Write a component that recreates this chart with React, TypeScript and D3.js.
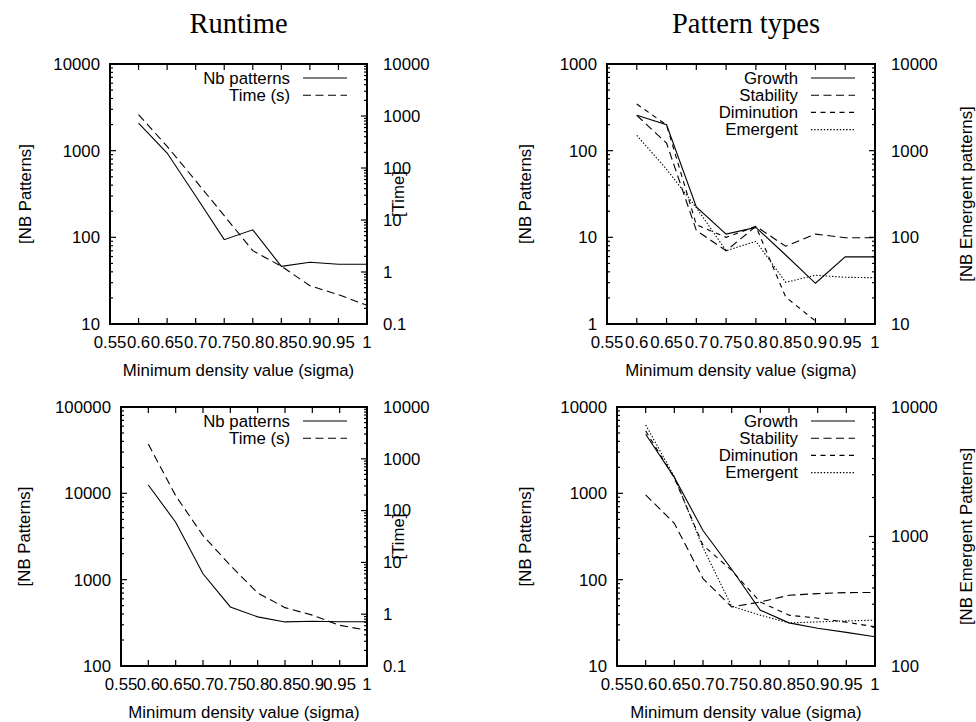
import React from 'react';
import * as d3 from 'd3';

// ---------- data ----------
const xValues = [0.6, 0.65, 0.7, 0.75, 0.8, 0.85, 0.9, 0.95, 1.0];
const xTickValues = [0.55, 0.6, 0.65, 0.7, 0.75, 0.8, 0.85, 0.9, 0.95, 1.0];
const xTickLabels = ['0.55', '0.6', '0.65', '0.7', '0.75', '0.8', '0.85', '0.9', '0.95', '1'];

const columnTitles = ['Runtime', 'Pattern types'];
const xAxisTitle = 'Minimum density value (sigma)';

// Runtime (top)
const runtimeTopPatterns = [2085, 940, 300, 94, 122, 46.3, 51.5, 49, 49];
const runtimeTopTime = [1060, 261, 57, 12.1, 2.57, 1.29, 0.545, 0.366, 0.229];
const runtimeTopLeftDomain = [10, 10000];
const runtimeTopRightDomain = [0.1, 10000];

// Pattern types (top)
const typesTopGrowth = [256, 199, 22.4, 10.9, 13, 6.25, 2.95, 5.95, 5.95];
const typesTopStability = [256, 122, 12, 7, 13.4, 7.9, 10.9, 9.9, 9.9];
const typesTopDiminution = [345, 198, 14, 10, 13.4, 2.05, 1.08, null, null];
const typesTopEmergent = [1500, 610, 220, 70, 90, 30.3, 36.5, 34.6, 34.2];
const typesTopLeftDomain = [1, 1000];
const typesTopRightDomain = [10, 10000];

// Runtime (bottom)
const runtimeBottomPatterns = [12500, 4620, 1170, 483, 371, 324, 330, 326, 326];
const runtimeBottomTime = [1920, 194, 33, 8.75, 2.57, 1.34, 0.96, 0.61, 0.49];
const runtimeBottomLeftDomain = [100, 100000];
const runtimeBottomRightDomain = [0.1, 10000];

// Pattern types (bottom)
const typesBottomGrowth = [4840, 1530, 371, 132, 44.3, 31.6, 27.4, 24.5, 21.8];
const typesBottomStability = [958, 450, 103, 48.3, 55.2, 65.9, 69, 70.8, 71];
const typesBottomDiminution = [5285, 1510, 250, 128, 55, 38.8, 35.8, 32.2, 28.4];
const typesBottomEmergent = [7270, 2900, 820, 289, 247, 215, 219, 223, 226];
const typesBottomLeftDomain = [10, 10000];
const typesBottomRightDomain = [100, 10000];

const runtimeLegend = ['Nb patterns', 'Time (s)'];
const typesLegend = ['Growth', 'Stability', 'Diminution', 'Emergent'];

// ---------- styles ----------
const SANS = '"Liberation Sans", Arial, Helvetica, sans-serif';
const SERIF = '"Liberation Serif", "Times New Roman", serif';
const FS = 16.8;
const DASH = {
  solid: undefined as string | undefined,
  long: '8,4.5',
  short: '5,4.5',
  dot: '1.4,1.8',
};

type Series = { name: string; values: (number | null)[]; axis: 'left' | 'right'; dash?: string };

type PanelProps = {
  id: string;
  frame: { left: number; right: number; top: number; bottom: number };
  leftDomain: number[];
  rightDomain: number[];
  series: Series[];
  leftLabel: string;
  rightLabel: string;
  leftLabelX: number;
  rightLabelX: number;
};

function logTicks(domain: number[]) {
  const majors: number[] = [];
  const minors: number[] = [];
  const lo = Math.round(Math.log10(domain[0]));
  const hi = Math.round(Math.log10(domain[1]));
  for (let e = lo; e <= hi; e++) {
    majors.push(Math.pow(10, e));
    if (e < hi) for (let k = 2; k <= 9; k++) minors.push(k * Math.pow(10, e));
  }
  return { majors, minors };
}

function fmt(v: number) {
  if (v >= 1) return String(Math.round(v));
  return String(+v.toPrecision(3));
}

function Panel(p: PanelProps) {
  const { frame } = p;
  const x = d3.scaleLinear().domain([0.55, 1.0]).range([frame.left, frame.right]);
  const yL = d3.scaleLog().domain(p.leftDomain).range([frame.bottom, frame.top]);
  const yR = d3.scaleLog().domain(p.rightDomain).range([frame.bottom, frame.top]);
  const lt = logTicks(p.leftDomain);
  const rt = logTicks(p.rightDomain);
  const MAJ = 6;
  const MIN = 3;
  const cy = (frame.top + frame.bottom) / 2;
  const cx = (frame.left + frame.right) / 2;

  return (
    <g>
      <defs>
        <clipPath id={`clip-${p.id}`}>
          <rect x={frame.left} y={frame.top} width={frame.right - frame.left} height={frame.bottom - frame.top} />
        </clipPath>
      </defs>
      <g clipPath={`url(#clip-${p.id})`}>
        {p.series.map((s, i) => {
          const ys = s.axis === 'left' ? yL : yR;
          const line = d3
            .line<number | null>()
            .defined((d) => d != null && d > 0)
            .x((_, j) => x(xValues[j]))
            .y((d) => ys(d as number));
          return (
            <path key={i} d={line(s.values) || ''} fill="none" stroke="#000" strokeWidth={1.1} strokeDasharray={s.dash} />
          );
        })}
      </g>
      {/* x ticks bottom and top */}
      {xTickValues.map((v, i) => (
        <g key={'xt' + i}>
          <line x1={x(v)} x2={x(v)} y1={frame.bottom} y2={frame.bottom - MAJ} stroke="#000" strokeWidth={1.2} />
          <line x1={x(v)} x2={x(v)} y1={frame.top} y2={frame.top + MAJ} stroke="#000" strokeWidth={1.2} />
          <text x={x(v)} y={frame.bottom + 18} dy="0.35em" textAnchor="middle" fontFamily={SANS} fontSize={FS}>
            {xTickLabels[i]}
          </text>
        </g>
      ))}
      {/* left y ticks */}
      {lt.minors.map((v, i) => (
        <line key={'lm' + i} x1={frame.left} x2={frame.left + MIN} y1={yL(v)} y2={yL(v)} stroke="#000" strokeWidth={1.2} />
      ))}
      {lt.majors.map((v, i) => (
        <g key={'lM' + i}>
          <line x1={frame.left} x2={frame.left + MAJ} y1={yL(v)} y2={yL(v)} stroke="#000" strokeWidth={1.2} />
          <text x={frame.left - 10} y={yL(v)} dy="0.35em" textAnchor="end" fontFamily={SANS} fontSize={FS}>
            {fmt(v)}
          </text>
        </g>
      ))}
      {/* right y ticks */}
      {rt.minors.map((v, i) => (
        <line key={'rm' + i} x1={frame.right} x2={frame.right - MIN} y1={yR(v)} y2={yR(v)} stroke="#000" strokeWidth={1.2} />
      ))}
      {rt.majors.map((v, i) => (
        <g key={'rM' + i}>
          <line x1={frame.right} x2={frame.right - MAJ} y1={yR(v)} y2={yR(v)} stroke="#000" strokeWidth={1.2} />
          <text x={frame.right + 16} y={yR(v)} dy="0.35em" textAnchor="start" fontFamily={SANS} fontSize={FS}>
            {fmt(v)}
          </text>
        </g>
      ))}
      {/* frame */}
      <rect
        x={frame.left}
        y={frame.top}
        width={frame.right - frame.left}
        height={frame.bottom - frame.top}
        fill="none"
        stroke="#000"
        strokeWidth={2}
      />
      {/* axis titles */}
      <text x={cx} y={frame.bottom + 46} dy="0.35em" textAnchor="middle" fontFamily={SANS} fontSize={FS}>
        {xAxisTitle}
      </text>
      <text
        transform={`translate(${p.leftLabelX},${cy}) rotate(-90)`}
        dy="0.35em"
        textAnchor="middle"
        fontFamily={SANS}
        fontSize={FS}
      >
        {p.leftLabel}
      </text>
      <text
        transform={`translate(${p.rightLabelX},${cy}) rotate(-90)`}
        dy="0.35em"
        textAnchor="middle"
        fontFamily={SANS}
        fontSize={FS}
      >
        {p.rightLabel}
      </text>
      {/* legend */}
      {p.series.map((s, i) => {
        const ry = frame.top + 14 + i * 17.2;
        return (
          <g key={'lg' + i}>
            <text x={frame.right - 77} y={ry} dy="0.35em" textAnchor="end" fontFamily={SANS} fontSize={FS}>
              {s.name}
            </text>
            <line
              x1={frame.right - 64}
              x2={frame.right - 20}
              y1={ry}
              y2={ry}
              stroke="#000"
              strokeWidth={1.1}
              strokeDasharray={s.dash}
            />
          </g>
        );
      })}
    </g>
  );
}

export default function App() {
  const panels: PanelProps[] = [
    {
      id: 'p1',
      frame: { left: 110, right: 367, top: 64, bottom: 324 },
      leftDomain: runtimeTopLeftDomain,
      rightDomain: runtimeTopRightDomain,
      series: [
        { name: runtimeLegend[0], values: runtimeTopPatterns, axis: 'left', dash: DASH.solid },
        { name: runtimeLegend[1], values: runtimeTopTime, axis: 'right', dash: DASH.long },
      ],
      leftLabel: '[NB Patterns]',
      rightLabel: '[Time]',
      leftLabelX: 25,
      rightLabelX: 398,
    },
    {
      id: 'p2',
      frame: { left: 607, right: 875, top: 64, bottom: 324 },
      leftDomain: typesTopLeftDomain,
      rightDomain: typesTopRightDomain,
      series: [
        { name: typesLegend[0], values: typesTopGrowth, axis: 'left', dash: DASH.solid },
        { name: typesLegend[1], values: typesTopStability, axis: 'left', dash: DASH.long },
        { name: typesLegend[2], values: typesTopDiminution, axis: 'left', dash: DASH.short },
        { name: typesLegend[3], values: typesTopEmergent, axis: 'right', dash: DASH.dot },
      ],
      leftLabel: '[NB Patterns]',
      rightLabel: '[NB Emergent patterns]',
      leftLabelX: 525,
      rightLabelX: 966,
    },
    {
      id: 'p3',
      frame: { left: 121, right: 367, top: 407, bottom: 666 },
      leftDomain: runtimeBottomLeftDomain,
      rightDomain: runtimeBottomRightDomain,
      series: [
        { name: runtimeLegend[0], values: runtimeBottomPatterns, axis: 'left', dash: DASH.solid },
        { name: runtimeLegend[1], values: runtimeBottomTime, axis: 'right', dash: DASH.long },
      ],
      leftLabel: '[NB Patterns]',
      rightLabel: '[Time]',
      leftLabelX: 24,
      rightLabelX: 398,
    },
    {
      id: 'p4',
      frame: { left: 617, right: 875, top: 407, bottom: 666 },
      leftDomain: typesBottomLeftDomain,
      rightDomain: typesBottomRightDomain,
      series: [
        { name: typesLegend[0], values: typesBottomGrowth, axis: 'left', dash: DASH.solid },
        { name: typesLegend[1], values: typesBottomStability, axis: 'left', dash: DASH.long },
        { name: typesLegend[2], values: typesBottomDiminution, axis: 'left', dash: DASH.short },
        { name: typesLegend[3], values: typesBottomEmergent, axis: 'right', dash: DASH.dot },
      ],
      leftLabel: '[NB Patterns]',
      rightLabel: '[NB Emergent Patterns]',
      leftLabelX: 525,
      rightLabelX: 966,
    },
  ];

  return (
    <svg
      width={976}
      height={722}
      viewBox="0 0 976 722"
      style={{ position: 'absolute', left: 0, top: 0, background: '#fff' }}
    >
      <rect x={0} y={0} width={976} height={722} fill="#fff" />
      <text x={238.5} y={33} textAnchor="middle" fontFamily={SERIF} fontSize={28.5}>
        {columnTitles[0]}
      </text>
      <text x={746} y={33} textAnchor="middle" fontFamily={SERIF} fontSize={28.5}>
        {columnTitles[1]}
      </text>
      {panels.map((p) => (
        <Panel key={p.id} {...p} />
      ))}
    </svg>
  );
}
